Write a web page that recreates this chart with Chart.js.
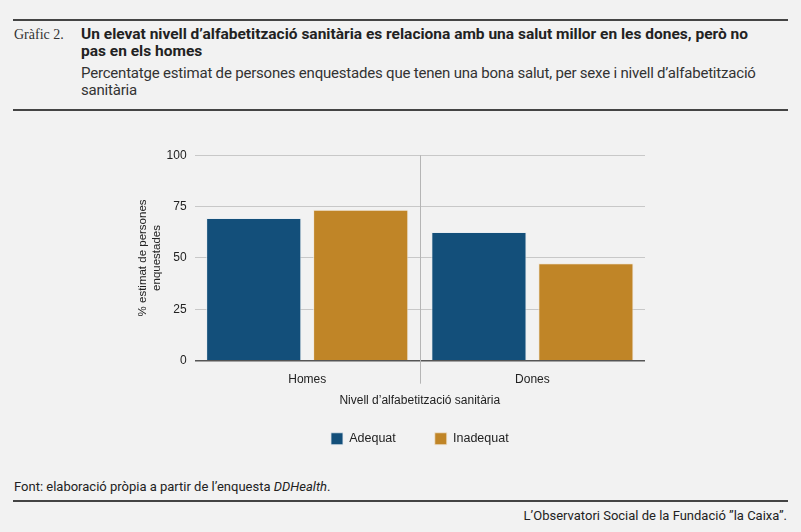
<!DOCTYPE html>
<html>
<head>
<meta charset="utf-8">
<script src="https://cdn.jsdelivr.net/npm/chart.js@4.4.1/dist/chart.umd.min.js"></script>
<style>
    body { margin: 0; background: #f2f2f2; width: 801px; height: 532px; overflow: hidden; position: relative; font-family: "Roboto", sans-serif; color: #222; }
    .rule { position: absolute; left: 13px; width: 775px; height: 2px; background: #444; }
    .label { position: absolute; left: 14px; top: 27px; font-family: "Liberation Serif", serif; font-size: 14px; color: #333; }
    .title { position: absolute; left: 81px; top: 26px; width: 690px; font-weight: bold; font-size: 15.5px; line-height: 17px; color: #222; }
    .subtitle { position: absolute; left: 81px; top: 65px; width: 690px; font-size: 15px; letter-spacing: -0.2px; line-height: 17px; color: #333; }
    .source { position: absolute; left: 14px; top: 479px; font-size: 13px; color: #222; }
    .credit { position: absolute; right: 14px; top: 508px; font-size: 13px; color: #222; }
    #wrap { position: absolute; left: 100px; top: 140px; width: 640px; height: 315px; }
</style>
</head>
<body>
<div class="rule" style="top:19px"></div>
<div class="label">Gràfic 2.</div>
<div class="title">Un elevat nivell d’alfabetització sanitària es relaciona amb una salut millor en les dones, però no pas en els homes</div>
<div class="subtitle">Percentatge estimat de persones enquestades que tenen una bona salut, per sexe i nivell d’alfabetització sanitària</div>
<div class="rule" style="top:109px"></div>
<div id="wrap"><canvas id="chart"></canvas></div>
<div class="source">Font: elaboració pròpia a partir de l’enquesta <i>DDHealth</i>.</div>
<div class="rule" style="top:500px"></div>
<div class="credit">L’Observatori Social de la Fundació ”la Caixa”.</div>

<script>
// Chart data
const categories = ['Homes', 'Dones'];
const adequat = [69.4, 62.6];
const inadequat = [73.5, 47.4];
const yTicks = [0, 25, 50, 75, 100];

const chartFont = '"Liberation Sans", Arial, sans-serif';

// Vertical divider between the two groups
const dividerPlugin = {
    id: 'divider',
    afterDatasetsDraw(chart) {
        const x = chart.scales.x;
        const area = chart.chartArea;
        const ctx = chart.ctx;
        for (let i = 1; i < categories.length; i++) {
            const px = (x.getPixelForValue(i - 1) + x.getPixelForValue(i)) / 2;
            ctx.save();
            ctx.strokeStyle = '#b5b5b5';
            ctx.lineWidth = 1;
            ctx.beginPath();
            ctx.moveTo(Math.round(px) + 0.5, area.top);
            ctx.lineTo(Math.round(px) + 0.5, area.bottom + 23);
            ctx.stroke();
            ctx.restore();
        }
    }
};

// Centre the legend under the plot area instead of the padded canvas
const legendCenterPlugin = {
    id: 'legendCenter',
    afterLayout(chart) {
        const legend = chart.legend;
        const area = chart.chartArea;
        const shift = (area.left + area.right) / 2 - (legend.left + legend.right) / 2;
        legend.left += shift;
        legend.right += shift;
    }
};

new Chart(document.getElementById('chart'), {
    type: 'bar',
    data: {
        labels: categories,
        datasets: [{
            label: 'Adequat',
            data: adequat,
            backgroundColor: '#134f7a',
            borderColor: 'rgba(230,235,240,0.8)',
            borderWidth: 1
        }, {
            label: 'Inadequat',
            data: inadequat,
            backgroundColor: '#c08527',
            borderColor: 'rgba(240,230,215,0.8)',
            borderWidth: 1
        }]
    },
    options: {
        responsive: true,
        maintainAspectRatio: false,
        animation: false,
        layout: { padding: { left: 32, right: 95, top: 12 } },
        datasets: { bar: { categoryPercentage: 0.95, barPercentage: 0.89 } },
        plugins: {
            legend: {
                position: 'bottom',
                labels: {
                    color: '#222',
                    boxWidth: 12,
                    boxHeight: 12,
                    padding: 39,
                    font: { family: chartFont, size: 12.5 }
                }
            },
            tooltip: { enabled: false }
        },
        scales: {
            x: {
                grid: { display: false, drawTicks: false },
                border: { display: false },
                ticks: { color: '#222', padding: 12, font: { family: chartFont, size: 12 } },
                title: {
                    display: true,
                    text: 'Nivell d’alfabetització sanitària',
                    color: '#222',
                    padding: { top: -6, bottom: -14 },
                    font: { family: chartFont, size: 12 }
                }
            },
            y: {
                min: 0,
                max: 100,
                afterBuildTicks: axis => { axis.ticks = yTicks.map(v => ({ value: v })); },
                grid: {
                    color: ctx => ctx.tick.value === 0 ? '#555' : '#c8c8c8',
                    lineWidth: ctx => ctx.tick.value === 0 ? 1.5 : 1,
                    drawTicks: false
                },
                border: { display: false },
                ticks: { color: '#222', padding: 8, font: { family: chartFont, size: 12 } },
                title: {
                    display: true,
                    text: ['% estimat de persones', 'enquestades'],
                    color: '#222',
                    padding: { bottom: -5 },
                    font: { family: chartFont, size: 11.5 }
                }
            }
        }
    },
    plugins: [dividerPlugin, legendCenterPlugin]
});
</script>
</body>
</html>
